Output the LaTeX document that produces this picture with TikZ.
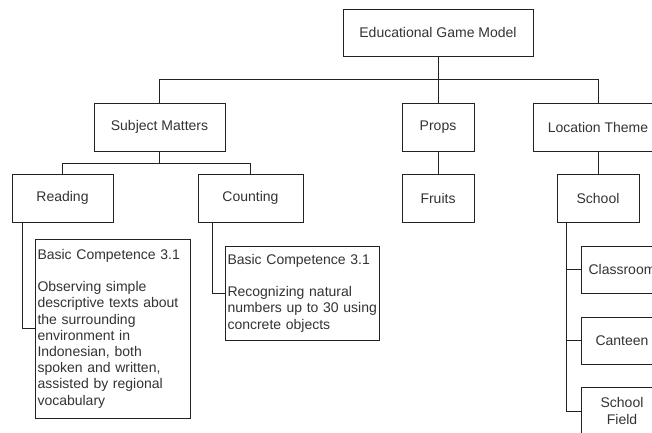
\documentclass[tikz,border=0pt]{standalone}
\usepackage{fontspec}
\setmainfont{Liberation Sans}
\definecolor{txt}{HTML}{333333}
\definecolor{ln}{HTML}{222222}
\tikzset{
  box/.style={draw=ln, line width=0.9pt, rectangle, inner sep=0pt, fill=white,
    text=txt, font=\fontsize{14}{16.2}\selectfont, align=center},
  tbox/.style={box, align=left, inner sep=2.5pt},
  conn/.style={draw=ln, line width=0.9pt},
}
\begin{document}
\begin{tikzpicture}[x=1pt,y=-1pt]
\useasboundingbox (0,0) rectangle (652,432);
\clip (0,0) rectangle (652,432);
\fill[white] (0,0) rectangle (652,432);
% nodes
\node[box, minimum width=190pt, minimum height=47pt] (top) at (438,32.5) {Educational Game Model};
\node[box, minimum width=131pt, minimum height=48pt] (sm) at (159.5,127) {Subject Matters};
\node[box, minimum width=72pt, minimum height=48pt] (props) at (438,127) {Props};
\node[box, minimum width=130pt, minimum height=48pt] (lt) at (598,127) {Location Theme};
\node[box, minimum width=101pt, minimum height=48pt] (reading) at (62.5,198) {Reading};
\node[box, minimum width=105pt, minimum height=48pt] (counting) at (250.5,198) {Counting};
\node[box, minimum width=72pt, minimum height=48pt] (fruits) at (438,198) {Fruits};
\node[box, minimum width=82pt, minimum height=48pt] (school) at (598,198) {School};
\node[tbox, text width=150pt, minimum height=179pt] (bc1) at (112.5,328.5)
  {\mbox{Basic Competence 3.1}\\[16.2pt]\mbox{Observing simple}\\\mbox{descriptive texts about}\\\mbox{the surrounding}\\\mbox{environment in}\\\mbox{Indonesian, both}\\\mbox{spoken and written,}\\\mbox{assisted by regional}\\\mbox{vocabulary}};
\node[tbox, text width=149pt, minimum height=94pt] (bc2) at (302,293)
  {\mbox{Basic Competence 3.1}\\[16.2pt]\mbox{Recognizing natural}\\\mbox{numbers up to 30 using}\\\mbox{concrete objects}};
\node[box, minimum width=82pt, minimum height=47pt] (classroom) at (622,269.5) {Classroom};
\node[box, minimum width=82pt, minimum height=47pt] (canteen) at (622,340.5) {Canteen};
\node[box, minimum width=82pt, minimum height=48pt] (field) at (622,411) {School\\Field};
% connectors
\draw[conn] (top.south) -- ++(0,23) -| (sm.north);
\draw[conn] (top.south) -- (props.north);
\draw[conn] (top.south) -- ++(0,23) -| (lt.north);
\draw[conn] (sm.south) -- ++(0,12) -| (reading.north);
\draw[conn] (sm.south) -- ++(0,12) -| (counting.north);
\draw[conn] (props.south) -- (fruits.north);
\draw[conn] (lt.south) -- (school.north);
\draw[conn] ([xshift=11pt]reading.south west) |- (bc1.west);
\draw[conn] ([xshift=15pt]counting.south west) |- (bc2.west);
\draw[conn] ([xshift=10pt]school.south west) |- (classroom.west);
\draw[conn] ([xshift=10pt]school.south west) |- (canteen.west);
\draw[conn] ([xshift=10pt]school.south west) |- (field.west);
\end{tikzpicture}
\end{document}
